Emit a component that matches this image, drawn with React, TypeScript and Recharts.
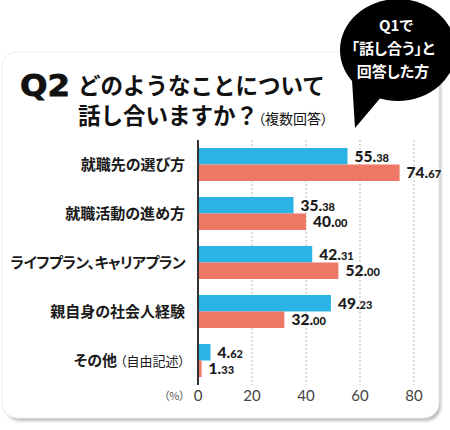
import React from "react";
import { BarChart, Bar, XAxis, YAxis, CartesianGrid, LabelList } from "recharts";

const categories = ["就職先の選び方", "就職活動の進め方", "ライフプラン、キャリアプラン", "親自身の社会人経験", "その他（自由記述）"];
const q1Answered = [55.38, 35.38, 42.31, 49.23, 4.62];
const allAnswered = [74.67, 40.0, 52.0, 32.0, 1.33];
const xTicks = [0, 20, 40, 60, 80];

const data = categories.map((name, i) => ({ name, q1: q1Answered[i], all: allAnswered[i] }));

const JP = '"Noto Sans CJK JP", "Noto Sans", sans-serif';
const NUM = 'Lato, "DejaVu Sans", sans-serif';
const PALT = { fontFeatureSettings: '"palt"' };

const CatTick = (props: any) => {
  const { y, payload } = props;
  const v: string = payload.value;
  const k = v.indexOf("（");
  const main = k >= 0 ? v.slice(0, k) : v;
  const sub = k >= 0 ? v.slice(k) : "";
  // the long katakana label is set tighter in the original
  const tight = main.length > 10;
  return (
    <text x={185} y={y + 5.5} textAnchor="end" fontFamily={JP} fill="#1a1a1a" style={PALT} letterSpacing={tight ? -0.6 : 0}>
      <tspan fontSize={15} fontWeight={700}>{main}</tspan>
      {sub ? <tspan fontSize={13} fontWeight={400}> {sub}</tspan> : null}
    </text>
  );
};

const NumTick = (props: any) => {
  const { x, payload } = props;
  return (
    <text x={x} y={401} textAnchor="middle" fontFamily={NUM} fontSize={15} fill="#444">
      {payload.value}
    </text>
  );
};

const ValueLabel = (props: any) => {
  const x = Number(props.x), y = Number(props.y), w = Number(props.width), h = Number(props.height);
  const [a, b] = Number(props.value).toFixed(2).split(".");
  return (
    <text x={x + w + 7} y={y + h / 2 + 5.5} fontFamily={NUM} fontWeight={900} fill="#1a1a1a">
      <tspan fontSize={15.5}>{a}.</tspan>
      <tspan fontSize={11}>{b}</tspan>
    </text>
  );
};

export default function App() {
  return (
    <div style={{ position: "absolute", left: 0, top: 0, width: 450, height: 430, background: "#fff" }}>
      <svg width={450} height={430} style={{ position: "absolute", left: 0, top: 0 }}>
        <defs>
          <filter id="blur" x="-5%" y="-5%" width="110%" height="110%">
            <feGaussianBlur stdDeviation="1.5" />
          </filter>
        </defs>
        {/* card */}
        <rect x={5} y={55} width={436} height={366} rx={15} fill="#bdbdbd" filter="url(#blur)" />
        <rect x={2} y={52} width={437} height={366} rx={15} fill="#fff" stroke="#ececec" />
        {/* title */}
        <text x={20} y={96} fontFamily='"DejaVu Sans", sans-serif' fontWeight={700} fontSize={30} fill="#111" stroke="#111" strokeWidth={0.8} textLength={50} lengthAdjust="spacingAndGlyphs">Q2</text>
        <text x={78} y={94} fontFamily={JP} fontWeight={700} fontSize={22.5} fill="#111">どのようなことについて</text>
        <text x={78} y={124} fontFamily={JP} fontWeight={700} fill="#111">
          <tspan fontSize={22.5}>話し合いますか？</tspan>
          <tspan fontSize={14} fontWeight={400} style={PALT}>（複数回答）</tspan>
        </text>
        {/* bubble */}
        <ellipse cx={398} cy={50} rx={58} ry={51} fill="#000" />
        <path d="M352,80 L382,96 L355,128 Z" fill="#000" />
        <g fontFamily={JP} fontWeight={700} fontSize={15} fill="#fff" textAnchor="middle" style={PALT}>
          <text x={396} y={31}>Q1で</text>
          <text x={393} y={54}>「話し合う」と</text>
          <text x={393} y={77}>回答した方</text>
        </g>
        <text x={185} y={400} textAnchor="end" fontFamily={JP} fontSize={11} fill="#555" style={PALT}>（%）</text>
      </svg>
      <div style={{ position: "absolute", left: 0, top: 0 }}>
        <BarChart
          layout="vertical"
          width={450}
          height={430}
          data={data}
          margin={{ top: 140, right: 36, bottom: 15, left: 0 }}
          barGap={0}
          barSize={16.5}
        >
          <CartesianGrid horizontal={false} strokeDasharray="2 2" stroke="#b5b5b5" />
          <XAxis type="number" domain={[0, 80]} ticks={xTicks} axisLine={false} tickLine={false} height={30} tick={<NumTick />} />
          <YAxis type="category" dataKey="name" width={198} axisLine={{ stroke: "#333", strokeWidth: 2 }} tickLine={false} tick={<CatTick />} />
          <Bar dataKey="q1" fill="#2cb3e6" isAnimationActive={false}>
            <LabelList dataKey="q1" content={<ValueLabel />} />
          </Bar>
          <Bar dataKey="all" fill="#ee7766" isAnimationActive={false}>
            <LabelList dataKey="all" content={<ValueLabel />} />
          </Bar>
        </BarChart>
      </div>
    </div>
  );
}
